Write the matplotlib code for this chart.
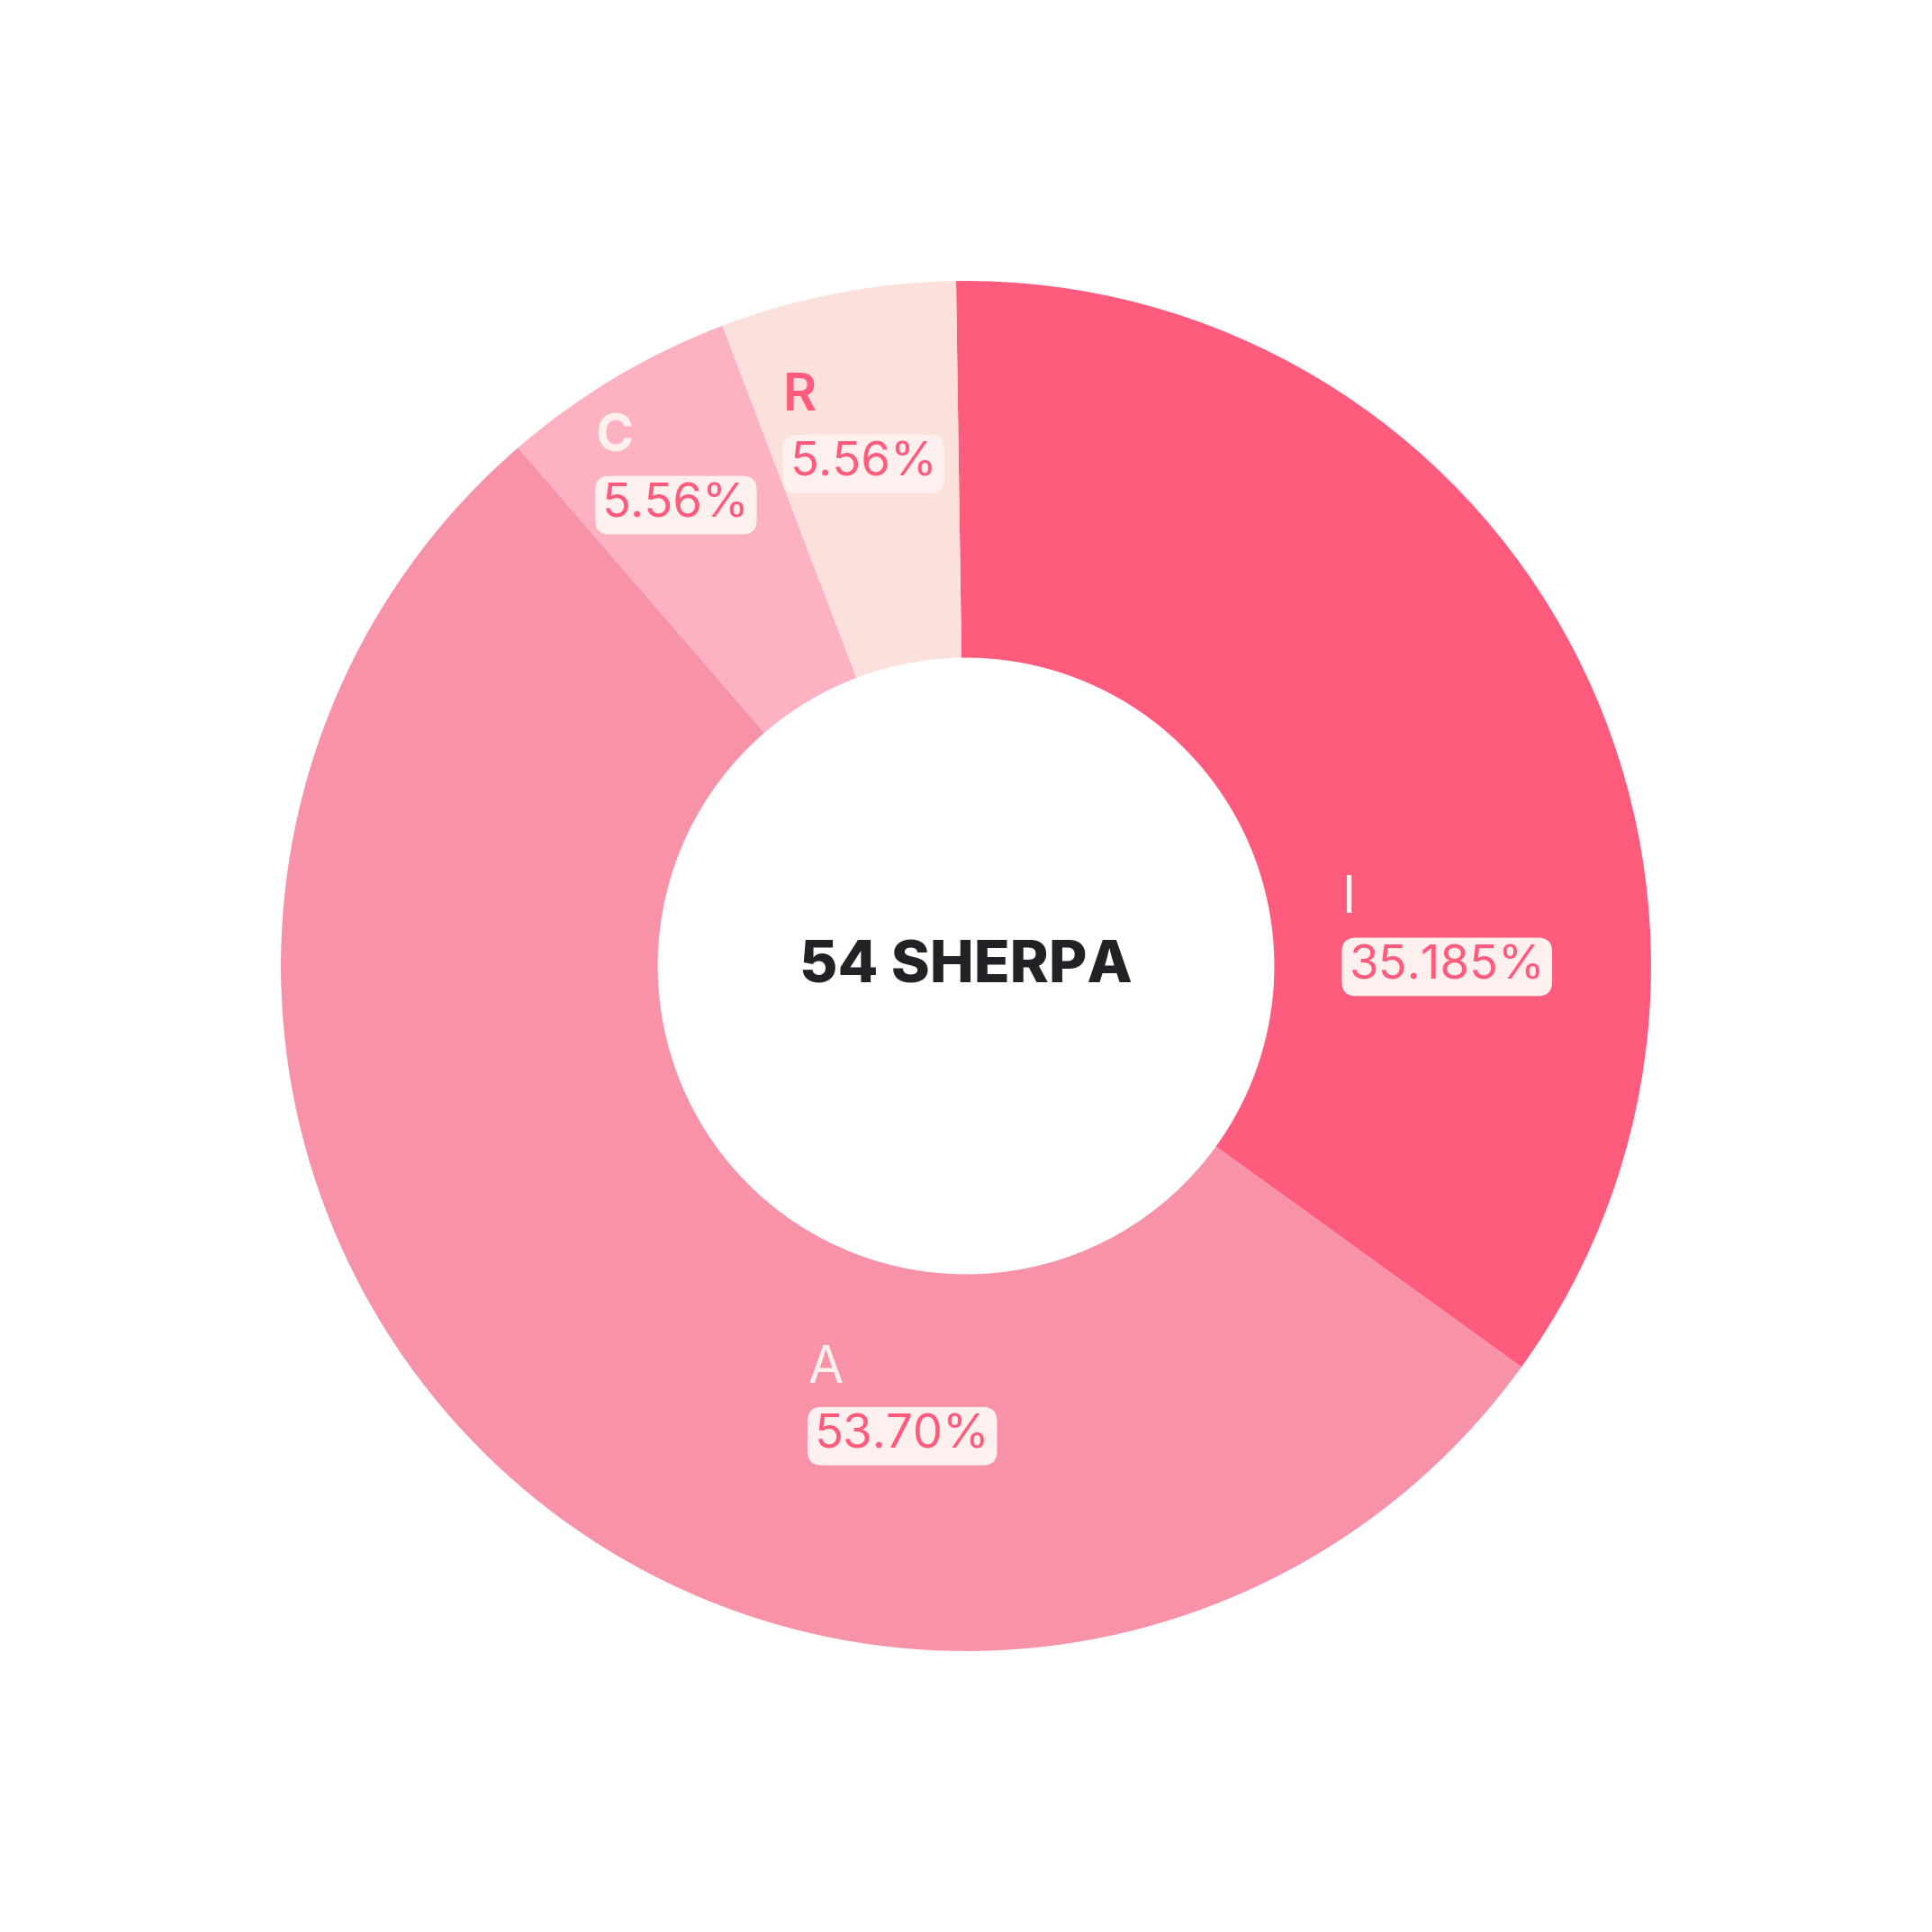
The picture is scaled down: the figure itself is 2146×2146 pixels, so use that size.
import matplotlib.pyplot as plt

# données
categories = ['I', 'A', 'C', 'R']
effectifs = [19, 29, 3, 3]
pourcentages = ['35.185%', '53.70%', '5.56%', '5.56%']
total_label = '54 SHERPA'

couleurs = ['#FF5C7D', '#F892A8', '#FDB2C3', '#FBE0DC']
couleurs_lettre = ['#FDF0EE', '#FDF0EE', '#FDF0EE', '#FF5C7D']
poids_lettre = ['normal', 'normal', 'bold', 'semibold']
# position des étiquettes (bord gauche, séparation lettre / boîte) en rayon extérieur
pos_labels = [(0.550, 0.063), (-0.230, -0.622), (-0.540, 0.737), (-0.266, 0.797)]

plt.rcParams['font.family'] = ['Inter', 'DejaVu Sans']

fig = plt.figure(figsize=(10.73, 10.73), dpi=200)
ax = fig.add_axes([0, 0, 1, 1])

ax.pie(effectifs, colors=couleurs, startangle=90.83, counterclock=False,
       radius=1.0, wedgeprops=dict(width=0.55, linewidth=0))

# limites après pie() qui impose les siennes
lim = 784 / 556
ax.set_xlim(-lim, lim)
ax.set_ylim(-lim, lim)
ax.set_aspect('equal')
ax.axis('off')

ax.text(0, -0.002, total_label, ha='center', va='center', fontsize=23.5,
        fontweight='heavy', color='#222226')

for cat, pct, (x, y), cl, pw in zip(categories, pourcentages, pos_labels, couleurs_lettre, poids_lettre):
    ax.text(x - 0.001, y + 0.014, cat, ha='left', va='baseline', fontsize=20.5,
            fontweight=pw, color=cl)
    ax.text(x + 0.009, y - 0.082, pct, ha='left', va='baseline', fontsize=19,
            color='#FF5C7D',
            bbox=dict(boxstyle='round,pad=0.15,rounding_size=0.3',
                      facecolor='#FDF0EE', edgecolor='none'))

fig.savefig('out.png', dpi=200, facecolor='white')
